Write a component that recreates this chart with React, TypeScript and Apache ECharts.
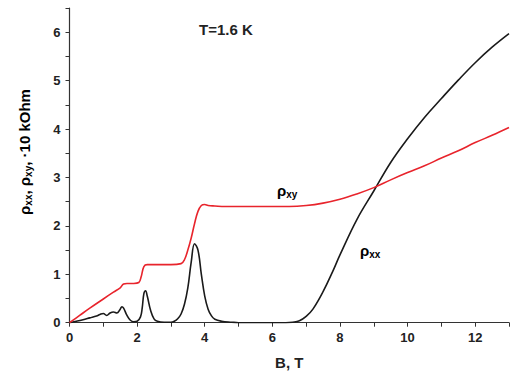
import React, { useEffect, useRef } from "react";
import * as echarts from "echarts";

const bXY = [0, 0.3, 0.6, 1.0, 1.3, 1.5, 1.6, 1.7, 1.9, 2.05, 2.12, 2.2, 2.3, 2.6, 3.0, 3.3, 3.4, 3.5, 3.6, 3.7, 3.8, 3.9, 4.0, 4.1, 4.3, 4.6, 5.0, 5.5, 6.0, 6.5, 7.0, 7.5, 8.0, 8.5, 9.0, 9.5, 10, 10.5, 11, 11.5, 12, 12.5, 13];
const rhoXY = [0, 0.15, 0.3, 0.49, 0.63, 0.72, 0.8, 0.81, 0.81, 0.83, 0.95, 1.16, 1.2, 1.2, 1.2, 1.22, 1.3, 1.5, 1.75, 2.05, 2.3, 2.42, 2.44, 2.42, 2.41, 2.4, 2.4, 2.4, 2.4, 2.4, 2.42, 2.47, 2.55, 2.66, 2.79, 2.95, 3.1, 3.24, 3.4, 3.55, 3.72, 3.87, 4.03];

const bXX = [0, 0.2, 0.4, 0.6, 0.8, 0.9, 1.0, 1.1, 1.2, 1.3, 1.4, 1.5, 1.55, 1.6, 1.7, 1.8, 1.9, 2.0, 2.1, 2.15, 2.2, 2.25, 2.3, 2.4, 2.5, 2.6, 2.8, 3.0, 3.1, 3.2, 3.3, 3.4, 3.5, 3.6, 3.7, 3.8, 3.9, 4.0, 4.1, 4.2, 4.3, 4.5, 4.8, 5.0, 5.5, 6.0, 6.4, 6.6, 6.8, 7.0, 7.2, 7.5, 7.8, 8.0, 8.5, 9.0, 9.5, 10, 10.5, 11, 11.5, 12, 12.5, 13];
const rhoXX = [0, 0.03, 0.06, 0.1, 0.14, 0.17, 0.19, 0.15, 0.2, 0.22, 0.2, 0.28, 0.33, 0.3, 0.15, 0.05, 0.02, 0.03, 0.12, 0.3, 0.6, 0.66, 0.55, 0.25, 0.08, 0.03, 0.01, 0.01, 0.03, 0.08, 0.18, 0.38, 0.72, 1.25, 1.63, 1.5, 1.0, 0.55, 0.28, 0.14, 0.07, 0.03, 0.01, 0, 0, 0, 0, 0.01, 0.04, 0.13, 0.28, 0.64, 1.08, 1.4, 2.13, 2.72, 3.31, 3.8, 4.24, 4.63, 5.01, 5.37, 5.69, 5.97];

const xLabels = ["0", "2", "4", "6", "8", "10", "12"];
const yLabels = ["0", "1", "2", "3", "4", "5", "6"];

const FONT = "Liberation Sans, Arial, sans-serif";

export default function App() {
  const ref = useRef<HTMLDivElement>(null);
  useEffect(() => {
    if (!ref.current) return;
    const chart = echarts.init(ref.current, undefined, { renderer: "svg" });
    const sub = { fontSize: 10, fontWeight: "bold", fontFamily: FONT, color: "#222", verticalAlign: "bottom", lineHeight: 11 };
    const rho = { fontSize: 15, fontWeight: "bold", fontFamily: FONT, color: "#222", lineHeight: 18 };
    const axisText = { fontSize: 15, fontWeight: "bold", fontFamily: FONT, color: "#222", lineHeight: 18 };
    const axisSub = { fontSize: 10, fontWeight: "bold", fontFamily: FONT, color: "#222", verticalAlign: "bottom", lineHeight: 11 };
    chart.setOption({
      animation: false,
      grid: { left: 69.5, right: 0, top: 8, bottom: 53.3 },
      xAxis: {
        type: "value",
        min: 0,
        max: 13,
        interval: 1,
        name: "B, T",
        nameLocation: "middle",
        nameGap: 32,
        nameTextStyle: { fontSize: 15, fontWeight: "bold", fontFamily: FONT, color: "#222" },
        axisLine: { lineStyle: { color: "#333", width: 1.2 } },
        axisTick: { length: 4, lineStyle: { color: "#333" } },
        axisLabel: {
          margin: 8,
          fontSize: 13,
          fontWeight: "bold",
          fontFamily: FONT,
          color: "#222",
          formatter: (v: number) => (xLabels.includes(String(v)) ? String(v) : ""),
        },
        splitLine: { show: false },
      },
      yAxis: {
        type: "value",
        min: 0,
        max: 6.5,
        interval: 0.5,
        axisLine: { show: true, lineStyle: { color: "#333", width: 1.2 } },
        axisTick: { show: true, length: 4, lineStyle: { color: "#333" } },
        axisLabel: {
          margin: 9,
          fontSize: 13,
          fontWeight: "bold",
          fontFamily: FONT,
          color: "#222",
          formatter: (v: number) => (yLabels.includes(String(v)) ? String(v) : ""),
        },
        splitLine: { show: false },
      },
      series: [
        {
          type: "line",
          data: bXX.map((b, i) => [b, rhoXX[i]]),
          smooth: 0.4,
          showSymbol: false,
          lineStyle: { color: "#1a1a1a", width: 1.6 },
          z: 2,
        },
        {
          type: "line",
          data: bXY.map((b, i) => [b, rhoXY[i]]),
          smooth: 0.4,
          showSymbol: false,
          lineStyle: { color: "#e8242c", width: 1.6 },
          z: 3,
        },
      ],
      graphic: [
        {
          type: "text",
          left: 199,
          top: 22,
          style: { text: "T=1.6 K", fontSize: 15, fontWeight: "bold", fontFamily: FONT, fill: "#222" },
        },
        {
          type: "text",
          x: 277,
          y: 181,
          style: { text: "{r|ρ}{s|xy}", rich: { r: rho, s: sub } },
        },
        {
          type: "text",
          x: 360,
          y: 241,
          style: { text: "{r|ρ}{s|xx}", rich: { r: rho, s: sub } },
        },
        {
          type: "text",
          x: 24,
          y: 152,
          rotation: Math.PI / 2,
          style: {
            text: "{r|ρ}{s|xx}{r|, ρ}{s|xy}{r|, ·10 kOhm}",
            align: "center",
            verticalAlign: "middle",
            rich: { r: axisText, s: axisSub },
          },
        },
      ],
    });
    return () => chart.dispose();
  }, []);
  return <div ref={ref} style={{ position: "fixed", left: 0, top: 0, width: 512, height: 376, background: "#fff" }} />;
}
